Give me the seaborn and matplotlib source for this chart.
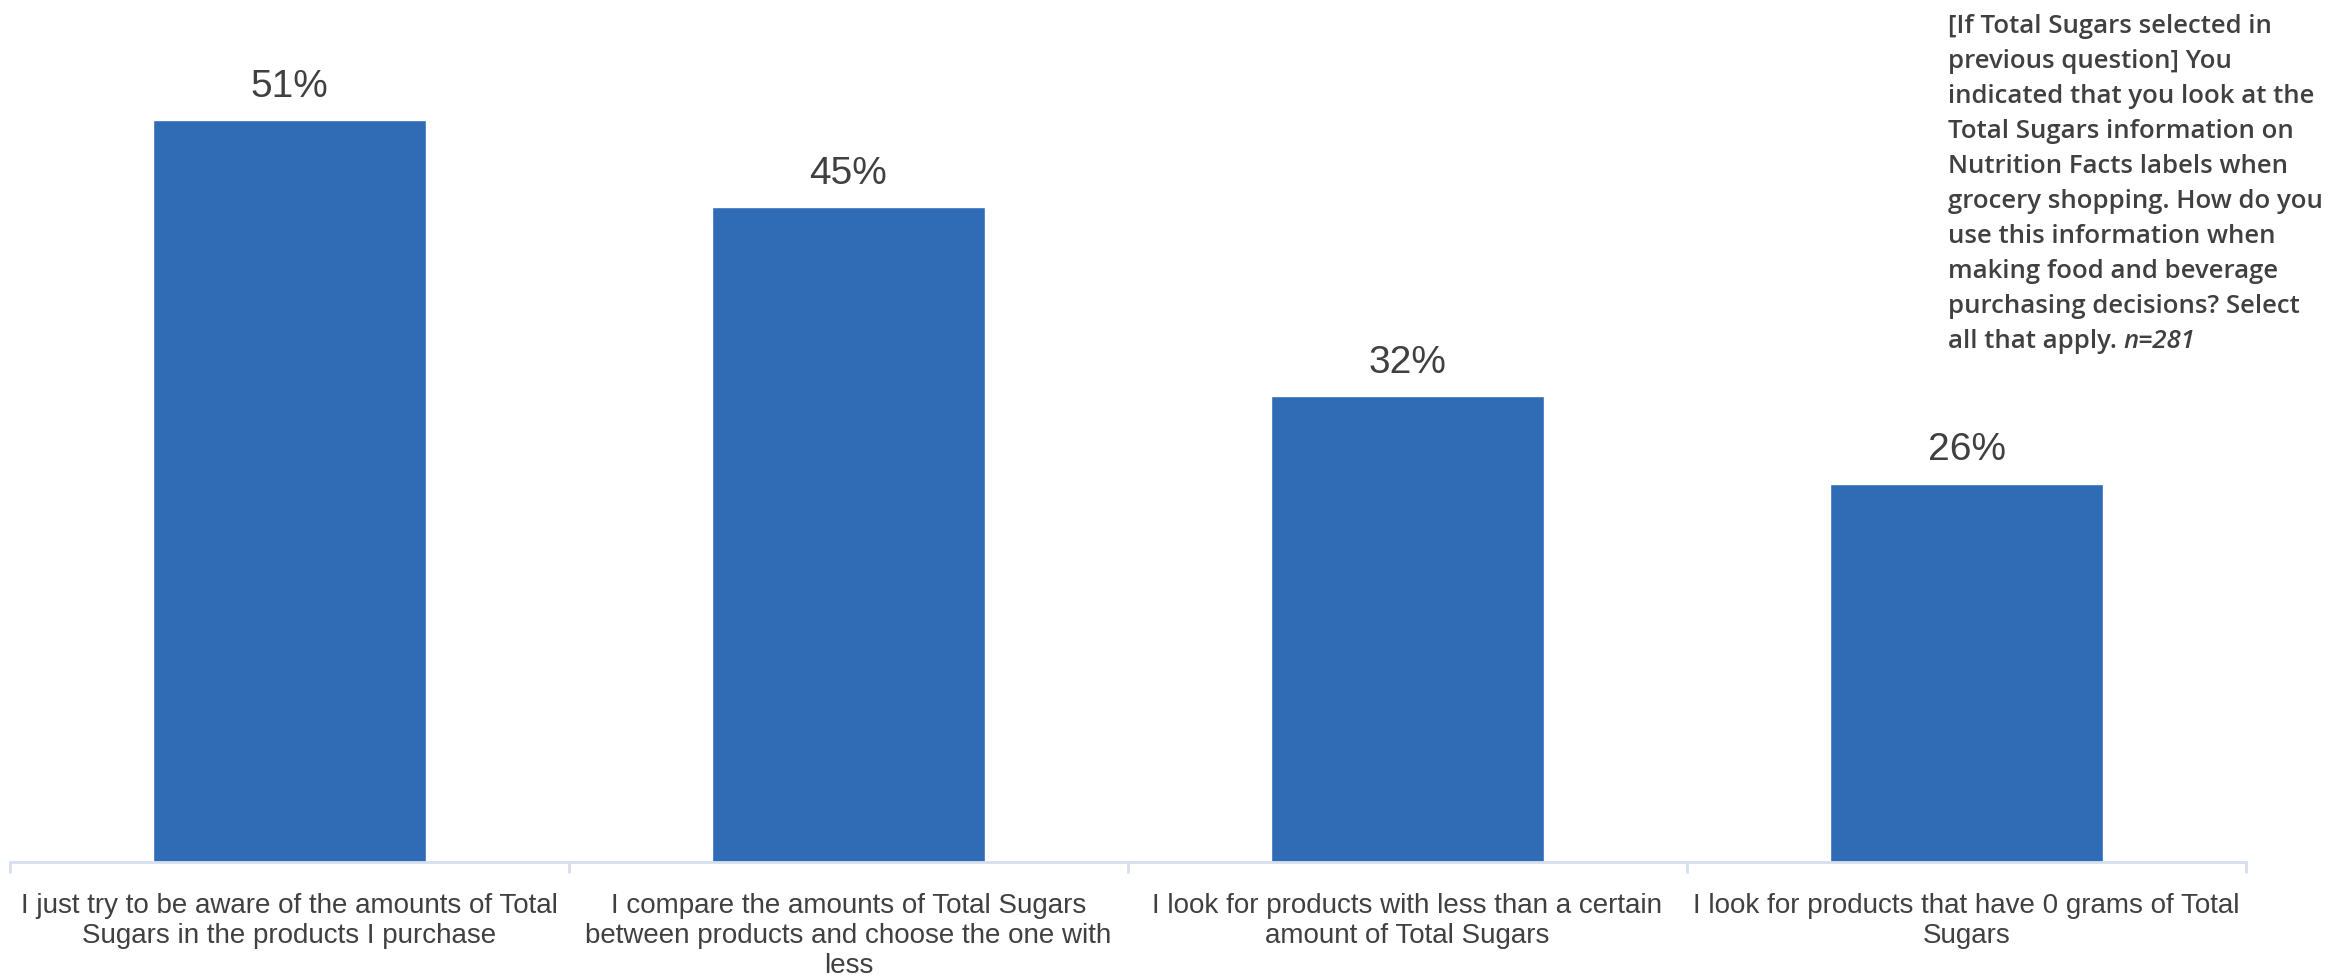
import matplotlib
matplotlib.use("Agg")
import matplotlib.pyplot as plt
import seaborn as sns
import pandas as pd
from matplotlib.ticker import FixedLocator

categories = [
    "I just try to be aware of the amounts of Total\nSugars in the products I purchase",
    "I compare the amounts of Total Sugars\nbetween products and choose the one with\nless",
    "I look for products with less than a certain\namount of Total Sugars",
    "I look for products that have 0 grams of Total\nSugars",
]
shares = [51, 45, 32, 26]
value_labels = ["51%", "45%", "32%", "26%"]

question_lines = [
    "[If Total Sugars selected in",
    "previous question] You",
    "indicated that you look at the",
    "Total Sugars information on",
    "Nutrition Facts labels when",
    "grocery shopping. How do you",
    "use this information when",
    "making food and beverage",
    "purchasing decisions? Select",
]
question_tail = "all that apply. "
sample_size = "n=281"

sns.set_theme(style="white")
plt.rcParams["font.family"] = ["Liberation Sans", "DejaVu Sans"]

BAR = "#306CB6"
TEXT = "#404040"
AXIS = "#D5DFED"
W, H = 2351, 975

df = pd.DataFrame({"category": categories, "share": shares})

fig = plt.figure(figsize=(W / 100, H / 100), dpi=100)
ax = fig.add_axes([10 / W, (H - 862) / H, (2246 - 10) / W, 862 / H])

sns.barplot(data=df, x="category", y="share", color=BAR, width=0.49,
            saturation=1, ax=ax)

ax.set_xlim(-0.5, len(categories) - 0.5)
ax.set_ylim(0, 59.25)
ax.set_xlabel("")
ax.set_ylabel("")
ax.set_yticks([])

for s in ["top", "right", "left"]:
    ax.spines[s].set_visible(False)
ax.spines["bottom"].set_color(AXIS)
ax.spines["bottom"].set_linewidth(2)

# boundary ticks between categories
ax.xaxis.set_minor_locator(FixedLocator([i - 0.5 for i in range(len(categories) + 1)]))
ax.tick_params(axis="x", which="minor", length=8, width=2, color=AXIS, bottom=True)
ax.tick_params(axis="x", which="major", length=0, pad=22)
for lbl in ax.get_xticklabels():
    lbl.set_fontfamily(["Liberation Sans Narrow", "Liberation Sans", "DejaVu Sans"])
    lbl.set_fontsize(20)
    lbl.set_color(TEXT)
    lbl.set_linespacing(1.22)
    lbl.set_horizontalalignment("center")

ax.bar_label(ax.containers[0], labels=value_labels, padding=11,
             fontsize=28, color=TEXT)

# question text, one line per baseline
qfont = dict(fontsize=18.5, color=TEXT, fontweight="semibold",
             fontfamily=["Open Sans", "DejaVu Sans"])
x0 = 1948 / W
for i, line in enumerate(question_lines):
    fig.text(x0, 1 - (33 + 35 * i) / H, line, ha="left", va="baseline", **qfont)
y_last = 1 - (33 + 35 * len(question_lines)) / H
tail = fig.text(x0, y_last, question_tail, ha="left", va="baseline", **qfont)
fig.canvas.draw()
bb = tail.get_window_extent()
fig.text(bb.x1 / fig.bbox.width, y_last, sample_size, ha="left", va="baseline",
         style="italic", **qfont)

fig.savefig("out.png", dpi=100)
